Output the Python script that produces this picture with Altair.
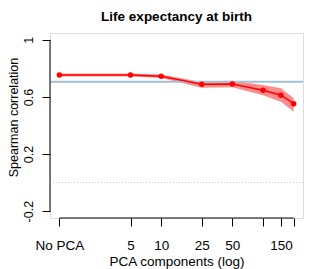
import altair as alt
import pandas as pd

# ---- data ----
components = [1, 5, 10, 25, 50, 100, 150, 200]          # 1 == "No PCA"
spearman   = [0.754, 0.754, 0.745, 0.689, 0.691, 0.647, 0.612, 0.553]
band_upper = [0.765, 0.765, 0.758, 0.705, 0.714, 0.684, 0.661, 0.591]
band_lower = [0.744, 0.744, 0.733, 0.665, 0.668, 0.612, 0.567, 0.497]
baseline_value = 0.707
zero_value = 0.0

x_ticks = [1, 5, 10, 25, 50, 100, 150, 200]
x_tick_labels = ["No PCA", "5", "10", "25", "50", "", "150", ""]
y_ticks = [-0.2, 0, 0.2, 0.4, 0.6, 0.8, 1]
y_tick_labels = ["-0.2", "0", "0.2", "", "0.6", "", "1"]

title_text = "Life expectancy at birth"

FONT = "Liberation Sans"
HFS = 13.5   # horizontal text size
VFS = 12.5   # vertical text size

df = pd.DataFrame({"x": components, "y": spearman, "lo": band_lower, "hi": band_upper})

x_label_expr = " : ".join(
    [f"datum.value == {v} ? '{l}'" for v, l in zip(x_ticks, x_tick_labels)] + ["''"]
)
y_label_expr = " : ".join(
    [f"abs(datum.value - ({v})) < 1e-6 ? '{l}'" for v, l in zip(y_ticks, y_tick_labels)] + ["''"]
)

W, H = 253, 185

x_scale = alt.Scale(type="log", domain=[0.809, 247], nice=False, zero=False)
y_scale = alt.Scale(domain=[-0.248, 1.048], nice=False, zero=False)

x_axis = alt.Axis(
    values=x_ticks, labelExpr=x_label_expr, domain=False, grid=False,
    tickSize=8, tickColor="black", tickWidth=1,
    labelFont=FONT, labelFontSize=HFS, labelColor="black",
    labelBaseline="alphabetic", labelPadding=23.5, labelOverlap=False,
    labelFlush=False, labelBound=False,
    title="PCA components (log)", titleFont=FONT, titleFontSize=HFS,
    titleFontWeight="normal", titleColor="black", titleX=W / 2, titleY=47.5,
    titleBaseline="alphabetic", titleAlign="center",
)
y_axis = alt.Axis(
    values=y_ticks, labelExpr=y_label_expr, domain=False, grid=False,
    tickSize=8, tickColor="black", tickWidth=1,
    labelFont=FONT, labelFontSize=VFS, labelColor="black",
    labelAngle=270, labelAlign="center", labelBaseline="alphabetic",
    labelPadding=10, labelOverlap=False, labelFlush=False, labelBound=False,
    title="Spearman correlation", titleFont=FONT, titleFontSize=VFS,
    titleFontWeight="normal", titleColor="black", titleAngle=270,
    titleX=-33, titleY=84, titleBaseline="alphabetic", titleAlign="center",
)

base = alt.Chart(df)

band = base.mark_area(color="red", opacity=0.45).encode(
    x=alt.X("x:Q", scale=x_scale, axis=x_axis),
    y=alt.Y("hi:Q", scale=y_scale, axis=y_axis),
    y2="lo:Q",
)
line = base.mark_line(color="red", strokeWidth=1.5).encode(
    x=alt.X("x:Q", scale=x_scale), y=alt.Y("y:Q", scale=y_scale)
)
pts = base.mark_circle(color="red", opacity=1, size=30).encode(
    x=alt.X("x:Q", scale=x_scale), y=alt.Y("y:Q", scale=y_scale)
)

blue = alt.Chart(pd.DataFrame({"v": [baseline_value]})).mark_rule(
    color="#A2C0D8", strokeWidth=2
).encode(y=alt.Y("v:Q", scale=y_scale))

zero = alt.Chart(pd.DataFrame({"v": [zero_value]})).mark_rule(
    color="#c8c8c8", strokeWidth=1, strokeDash=[1, 2]
).encode(y=alt.Y("v:Q", scale=y_scale))

# axis lines spanning only from first to last tick (base-graphics style)
y_axis_line = alt.Chart(pd.DataFrame({"a": [min(y_ticks)], "b": [max(y_ticks)]})).mark_rule(
    color="black", strokeWidth=1
).encode(x=alt.value(0), y=alt.Y("a:Q", scale=y_scale), y2="b:Q")
x_axis_line = alt.Chart(pd.DataFrame({"a": [min(x_ticks)], "b": [max(x_ticks)]})).mark_rule(
    color="black", strokeWidth=1
).encode(y=alt.value(H), x=alt.X("a:Q", scale=x_scale), x2="b:Q")

title = alt.Chart(pd.DataFrame({"t": [title_text]})).mark_text(
    font=FONT, fontSize=HFS, fontWeight="bold", color="black",
    align="center", baseline="alphabetic",
).encode(text="t:N", x=alt.value(W / 2), y=alt.value(-12.3))

chart = alt.layer(
    band, zero, blue, line, pts, y_axis_line, x_axis_line, title
).properties(
    width=W, height=H,
    autosize=alt.AutoSizeParams(type="none"),
    padding={"left": 42, "top": 25, "right": 8, "bottom": 51},
).configure_view(stroke=None).configure(background="white")

chart.save("out.html", embed_options={"renderer": "svg", "actions": False})
